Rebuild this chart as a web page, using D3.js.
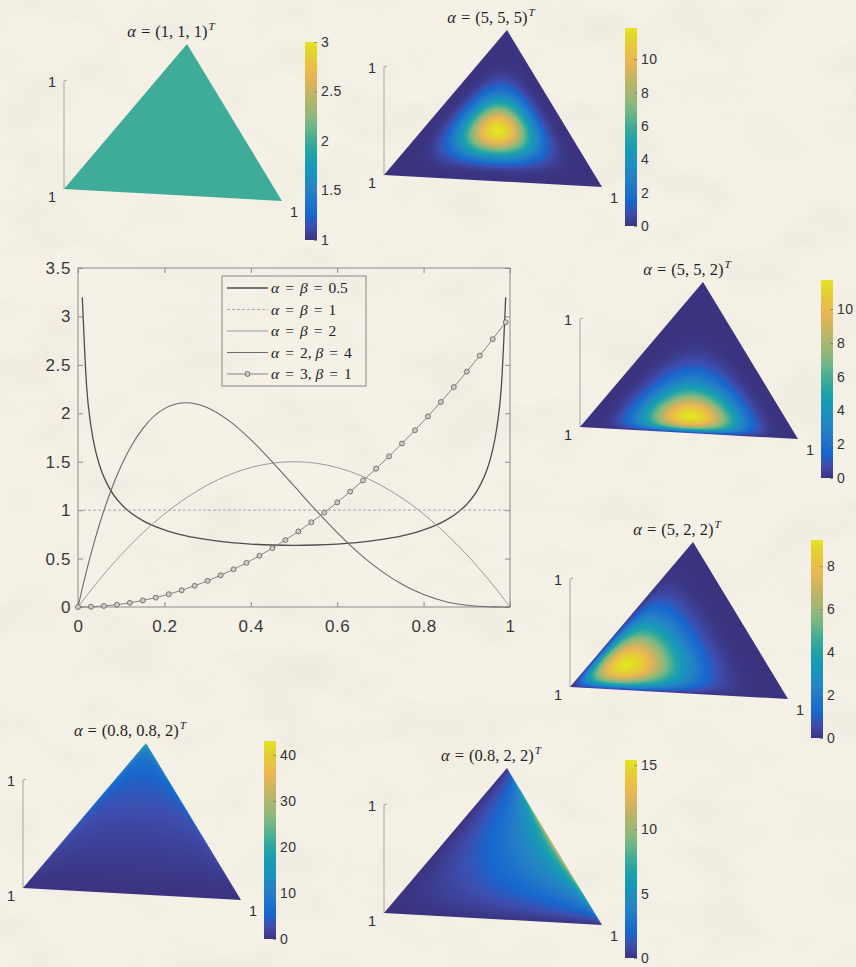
<!DOCTYPE html>
<html>
<head>
<meta charset="utf-8">
<script src="https://cdn.jsdelivr.net/npm/d3@7"></script>
<style>
  html, body { margin: 0; padding: 0; background: #f4efe5; }
  svg { display: block; }
</style>
</head>
<body>
<svg id="fig" width="856" height="967"></svg>
<script>
// ---------- Beta densities for the line plot ----------
const betaX = [0, 0.01, 0.02, 0.03, 0.04, 0.05, 0.075, 0.1, 0.125, 0.15, 0.2, 0.25, 0.3, 0.35, 0.4, 0.45, 0.5,
               0.55, 0.6, 0.65, 0.7, 0.75, 0.8, 0.85, 0.875, 0.9, 0.925, 0.95, 0.96, 0.97, 0.98, 0.99, 1];
const betaHalf = [null, 3.199, 2.274, 1.866, 1.624, 1.461, 1.209, 1.061, 0.963, 0.892, 0.796, 0.735, 0.695, 0.667, 0.650, 0.640, 0.637,
                  0.640, 0.650, 0.667, 0.695, 0.735, 0.796, 0.892, 0.963, 1.061, 1.209, 1.461, 1.624, 1.866, 2.274, 3.199, null];
const uniformX = [0, 1];
const uniformY = [1, 1];
const betaTwoTwo = [0, 0.059, 0.118, 0.175, 0.230, 0.285, 0.416, 0.540, 0.656, 0.765, 0.960, 1.125, 1.260, 1.365, 1.440, 1.485, 1.500,
                    1.485, 1.440, 1.365, 1.260, 1.125, 0.960, 0.765, 0.656, 0.540, 0.416, 0.285, 0.230, 0.175, 0.118, 0.059, 0];
const betaTwoFour = [0, 0.194, 0.377, 0.548, 0.708, 0.857, 1.187, 1.458, 1.675, 1.842, 2.048, 2.109, 2.058, 1.922, 1.728, 1.497, 1.250,
                     1.002, 0.768, 0.557, 0.378, 0.234, 0.128, 0.057, 0.034, 0.018, 0.008, 0.002, 0.001, 0.001, 0.000, 0.000, 0];
const betaThreeOneX = [0, 0.03, 0.06, 0.09, 0.12, 0.15, 0.18, 0.21, 0.24, 0.27, 0.30, 0.33, 0.36, 0.39, 0.42, 0.45, 0.48,
                       0.51, 0.54, 0.57, 0.60, 0.63, 0.66, 0.69, 0.72, 0.75, 0.78, 0.81, 0.84, 0.87, 0.90, 0.93, 0.96, 0.99];
const betaThreeOneY = [0, 0.003, 0.011, 0.024, 0.043, 0.068, 0.097, 0.132, 0.173, 0.219, 0.270, 0.327, 0.389, 0.456, 0.529, 0.608, 0.691,
                       0.780, 0.875, 0.975, 1.080, 1.191, 1.307, 1.428, 1.555, 1.688, 1.825, 1.968, 2.117, 2.271, 2.430, 2.595, 2.765, 2.940];
const legendAlpha = [0.5, 1, 2, 2, 3];
const legendBeta  = [0.5, 1, 2, 4, 1];
const xTicks = [0, 0.2, 0.4, 0.6, 0.8, 1];
const xTickLabels = ["0", "0.2", "0.4", "0.6", "0.8", "1"];
const yTicks = [0, 0.5, 1, 1.5, 2, 2.5, 3, 3.5];
const yTickLabels = ["0", "0.5", "1", "1.5", "2", "2.5", "3", "3.5"];

// ---------- Dirichlet densities on the simplex ----------
const dirichletAlpha = [[1, 1, 1], [5, 5, 5], [5, 5, 2], [5, 2, 2], [0.8, 0.8, 2], [0.8, 2, 2]];
const cbarMin = [1, 0, 0, 0, 0, 0];
const cbarMax = [3, 11.87, 11.72, 9.22, 43, 15.4];
const cbarTicks = [[1, 1.5, 2, 2.5, 3], [0, 2, 4, 6, 8, 10], [0, 2, 4, 6, 8, 10], [0, 2, 4, 6, 8], [0, 10, 20, 30, 40], [0, 5, 10, 15]];
const cbarTickLabels = [["1", "1.5", "2", "2.5", "3"], ["0", "2", "4", "6", "8", "10"], ["0", "2", "4", "6", "8", "10"],
                        ["0", "2", "4", "6", "8"], ["0", "10", "20", "30", "40"], ["0", "5", "10", "15"]];

// parula colormap samples (position, r, g, b)
const parulaPos = [0, 4, 8, 12, 16, 20, 24, 28, 32, 36, 40, 44, 48, 52, 56, 60, 63].map(i => i / 63);
const parulaRGB = [
  [0.2081, 0.1663, 0.5292], [0.1959, 0.2645, 0.7279], [0.0117, 0.3875, 0.8820], [0.0498, 0.4586, 0.8641],
  [0.0793, 0.5200, 0.8312], [0.0343, 0.5966, 0.8199], [0.0228, 0.6535, 0.7768], [0.0843, 0.6928, 0.7062],
  [0.2178, 0.7250, 0.6193], [0.3953, 0.7459, 0.5244], [0.5709, 0.7485, 0.4494], [0.7184, 0.7411, 0.3905],
  [0.8507, 0.7299, 0.3360], [0.9739, 0.7314, 0.2666], [0.9880, 0.8066, 0.1794], [0.9589, 0.8949, 0.1132],
  [0.9763, 0.9831, 0.0538]
];

// ---------- layout ----------
const W = 856, H = 967;
const plot = { left: 78, right: 510, top: 268, bottom: 607 };
// screen origin of each simplex panel (the (0,0,0) corner of its 3-D box)
const panelOrigin = [[187, 152], [507, 138], [703, 390], [693, 650], [146, 851], [507, 876]];
// vertical shift of each colorbar relative to its panel
const cbarShift = [0, 0, 0, 0, 0, -6];
// projected unit vectors of the three coordinate axes
const ex = [-123, 37], ey = [95, 49], ez = [0, -108];

const SANS = '"Liberation Sans", Arial, Helvetica, sans-serif';
const SERIF = '"Liberation Serif", "Times New Roman", serif';

const svg = d3.select('#fig');
const defs = svg.append('defs');

// paper background
const paper = defs.append('filter').attr('id', 'paper').attr('x', 0).attr('y', 0).attr('width', '100%').attr('height', '100%');
paper.append('feTurbulence').attr('type', 'fractalNoise').attr('baseFrequency', '0.012 0.02').attr('numOctaves', 4).attr('seed', 7);
paper.append('feColorMatrix').attr('type', 'matrix')
  .attr('values', '0 0 0 0 0.55  0 0 0 0 0.50  0 0 0 0 0.42  1.3 0 0 0 -0.55');
svg.append('rect').attr('width', W).attr('height', H).attr('fill', '#f5f1e7');
svg.append('rect').attr('width', W).attr('height', H).attr('filter', 'url(#paper)').attr('opacity', 0.2);

// slightly softened parula, as printed
const parulaColors = parulaRGB.map(c => {
  const h = d3.hsl(d3.rgb(c[0] * 255, c[1] * 255, c[2] * 255));
  h.s *= 0.82;
  return h.toString();
});
const parulaScale = d3.scaleLinear().domain(parulaPos).range(parulaColors)
  .interpolate(d3.interpolateRgb).clamp(true);

// ---------- math-style text ----------
function mathText(parent, x, y, pieces, size, anchor) {
  const t = parent.append('text').attr('x', x).attr('y', y)
    .attr('font-family', SERIF).attr('font-size', size).attr('fill', '#1f1f1f')
    .attr('text-anchor', anchor || 'start');
  pieces.forEach(p => {
    const s = t.append('tspan').text(p.t);
    if (p.it) s.attr('font-style', 'italic');
    if (p.dx) s.attr('dx', p.dx);
    if (p.sup) s.attr('font-size', size * 0.68).attr('dy', -size * 0.42);
  });
  return t;
}

// ---------- line plot ----------
const x = d3.scaleLinear().domain([0, 1]).range([plot.left, plot.right]);
const y = d3.scaleLinear().domain([0, 3.5]).range([plot.bottom, plot.top]);
const gPlot = svg.append('g');

function styleAxis(g, withText) {
  g.select('.domain').remove();
  g.selectAll('.tick line').attr('stroke', '#8a8a8a').attr('stroke-width', 1);
  g.selectAll('.tick text').attr('fill', '#383838').attr('font-family', SANS)
    .attr('font-size', 17).style('letter-spacing', '0.6px');
  if (!withText) g.selectAll('.tick text').remove();
}
gPlot.append('g').attr('transform', `translate(0,${plot.bottom})`)
  .call(d3.axisBottom(x).tickValues(xTicks).tickFormat((d, i) => xTickLabels[i]).tickSize(-5).tickPadding(13))
  .call(g => styleAxis(g, true));
gPlot.append('g').attr('transform', `translate(0,${plot.top})`)
  .call(d3.axisTop(x).tickValues(xTicks).tickFormat('').tickSize(-5)).call(g => styleAxis(g, false));
gPlot.append('g').attr('transform', `translate(${plot.left},0)`)
  .call(d3.axisLeft(y).tickValues(yTicks).tickFormat((d, i) => yTickLabels[i]).tickSize(-5).tickPadding(7))
  .call(g => styleAxis(g, true));
gPlot.append('g').attr('transform', `translate(${plot.right},0)`)
  .call(d3.axisRight(y).tickValues(yTicks).tickFormat('').tickSize(-5)).call(g => styleAxis(g, false));
gPlot.append('rect').attr('x', plot.left).attr('y', plot.top)
  .attr('width', plot.right - plot.left).attr('height', plot.bottom - plot.top)
  .attr('fill', 'none').attr('stroke', '#8a8a8a').attr('stroke-width', 1);

const series = [
  { xs: betaX, ys: betaHalf, stroke: '#4d4d4d', width: 1.3, dash: null, curve: d3.curveMonotoneX },
  { xs: uniformX, ys: uniformY, stroke: '#a8a8a8', width: 1, dash: '3,2', curve: d3.curveLinear },
  { xs: betaX, ys: betaTwoTwo, stroke: '#9a9a9a', width: 1, dash: null, curve: d3.curveMonotoneX },
  { xs: betaX, ys: betaTwoFour, stroke: '#6a6a6a', width: 1.1, dash: null, curve: d3.curveMonotoneX },
  { xs: betaThreeOneX, ys: betaThreeOneY, stroke: '#858585', width: 1, dash: null, curve: d3.curveLinear, markers: true }
];
series.forEach(s => {
  const pts = s.xs.map((v, i) => [v, s.ys[i]]);
  const line = d3.line().defined(d => d[1] != null).x(d => x(d[0])).y(d => y(d[1])).curve(s.curve);
  gPlot.append('path').attr('d', line(pts)).attr('fill', 'none')
    .attr('stroke', s.stroke).attr('stroke-width', s.width).attr('stroke-dasharray', s.dash);
  if (s.markers) {
    gPlot.selectAll(null).data(pts).enter().append('circle')
      .attr('cx', d => x(d[0])).attr('cy', d => y(d[1])).attr('r', 2.5)
      .attr('fill', '#cfcac0').attr('stroke', '#5e5e5e').attr('stroke-width', 0.8);
  }
});

// legend
const leg = { x0: 222, y0: 276, w: 144, h: 110, row0: 288, rowStep: 21.5, lineX0: 227, lineX1: 268, textX: 271 };
gPlot.append('rect').attr('x', leg.x0).attr('y', leg.y0).attr('width', leg.w).attr('height', leg.h)
  .attr('fill', 'none').attr('stroke', '#858585').attr('stroke-width', 1);
series.forEach((s, i) => {
  const ry = leg.row0 + i * leg.rowStep;
  gPlot.append('line').attr('x1', leg.lineX0).attr('x2', leg.lineX1).attr('y1', ry).attr('y2', ry)
    .attr('stroke', s.stroke).attr('stroke-width', s.width).attr('stroke-dasharray', s.dash);
  if (s.markers) {
    gPlot.append('circle').attr('cx', (leg.lineX0 + leg.lineX1) / 2).attr('cy', ry).attr('r', 2.5)
      .attr('fill', '#cfcac0').attr('stroke', '#5e5e5e').attr('stroke-width', 0.8);
  }
  const a = legendAlpha[i], b = legendBeta[i], g = 6;
  const pieces = a === b
    ? [{ t: 'α', it: true }, { t: '=', dx: g }, { t: 'β', it: true, dx: g }, { t: '=', dx: g }, { t: String(a), dx: g }]
    : [{ t: 'α', it: true }, { t: '=', dx: g }, { t: String(a) + ',', dx: g }, { t: 'β', it: true, dx: 4 }, { t: '=', dx: g }, { t: String(b), dx: g }];
  mathText(gPlot, leg.textX, ry + 5, pieces, 15.5, 'start');
});

// ---------- Dirichlet panels ----------
function lgamma(z) {
  const c = [0.99999999999980993, 676.5203681218851, -1259.1392167224028, 771.32342877765313,
    -176.61502916214059, 12.507343278686905, -0.13857109526572012, 9.9843695780195716e-6, 1.5056327351493116e-7];
  if (z < 0.5) return Math.log(Math.PI / Math.sin(Math.PI * z)) - lgamma(1 - z);
  z -= 1;
  let s = c[0];
  for (let i = 1; i < 9; i++) s += c[i] / (z + i);
  const t = z + 7.5;
  return 0.5 * Math.log(2 * Math.PI) + (z + 0.5) * Math.log(t) - t + Math.log(s);
}

// gradient for the colorbars
const grad = defs.append('linearGradient').attr('id', 'parulaGrad')
  .attr('x1', 0).attr('y1', 1).attr('x2', 0).attr('y2', 0);
parulaPos.forEach((p, i) => grad.append('stop').attr('offset', p).attr('stop-color', parulaColors[i]));

dirichletAlpha.forEach((alpha, k) => {
  const [ox, oy] = panelOrigin[k];
  // projected vertices: component 1 -> L, component 2 -> R, component 3 -> A
  const L = [ox + ex[0], oy + ex[1]];
  const R = [ox + ey[0], oy + ey[1]];
  const A = [ox + ez[0], oy + ez[1]];
  const g = svg.append('g');

  const color = d3.scaleLinear().domain([cbarMin[k], cbarMax[k]]).range([0, 1]).clamp(true);
  const logNorm = lgamma(d3.sum(alpha)) - d3.sum(alpha, a => lgamma(a));

  // density surface, rasterised on the projected triangle
  const bx = Math.floor(Math.min(L[0], R[0], A[0])) - 1, by = Math.floor(Math.min(L[1], R[1], A[1])) - 1;
  const bw = Math.ceil(Math.max(L[0], R[0], A[0])) + 2 - bx, bh = Math.ceil(Math.max(L[1], R[1], A[1])) + 2 - by;
  const cv = document.createElement('canvas');
  cv.width = bw; cv.height = bh;
  const ctx = cv.getContext('2d');
  const img = ctx.createImageData(bw, bh);
  const u = [L[0] - A[0], L[1] - A[1]], v = [R[0] - A[0], R[1] - A[1]];
  const det = u[0] * v[1] - u[1] * v[0];
  const eps = 0.004;
  for (let j = 0; j < bh; j++) {
    for (let i = 0; i < bw; i++) {
      const dx = bx + i + 0.5 - A[0], dy = by + j + 0.5 - A[1];
      let b1 = (dx * v[1] - dy * v[0]) / det;
      let b2 = (u[0] * dy - u[1] * dx) / det;
      let b3 = 1 - b1 - b2;
      if (b1 < -0.03 || b2 < -0.03 || b3 < -0.03) continue;
      b1 = Math.max(b1, eps); b2 = Math.max(b2, eps); b3 = Math.max(b3, eps);
      const dens = Math.exp(logNorm + (alpha[0] - 1) * Math.log(b1) + (alpha[1] - 1) * Math.log(b2) + (alpha[2] - 1) * Math.log(b3));
      const c = d3.rgb(parulaScale(color(dens)));
      const o = (j * bw + i) * 4;
      img.data[o] = c.r; img.data[o + 1] = c.g; img.data[o + 2] = c.b; img.data[o + 3] = 255;
    }
  }
  ctx.putImageData(img, 0, 0);
  const clipId = 'tri' + k;
  defs.append('clipPath').attr('id', clipId).append('polygon')
    .attr('points', [L, R, A].map(p => p.join(',')).join(' '));

  // vertical z ruler at the (1,0,·) corner
  g.append('line').attr('x1', L[0]).attr('x2', L[0]).attr('y1', L[1]).attr('y2', L[1] + ez[1])
    .attr('stroke', '#a5a5a5').attr('stroke-width', 1);
  g.append('line').attr('x1', L[0]).attr('x2', L[0] + 3).attr('y1', L[1] + ez[1]).attr('y2', L[1] + ez[1] - 1)
    .attr('stroke', '#a5a5a5').attr('stroke-width', 1);

  g.append('image').attr('href', cv.toDataURL()).attr('x', bx).attr('y', by)
    .attr('width', bw).attr('height', bh).attr('clip-path', `url(#${clipId})`);

  // axis "1" labels
  const lab = [[L[0] - 12, L[1] + ez[1] + 1], [L[0] - 12, L[1] + 8], [R[0] + 12, R[1] + 11]];
  lab.forEach(p => g.append('text').attr('x', p[0]).attr('y', p[1]).attr('dy', '0.35em')
    .attr('text-anchor', 'middle').attr('font-family', SANS).attr('font-size', 14.5)
    .attr('fill', '#2e2e2e').text('1'));

  // title
  const tp = [{ t: 'α', it: true }, { t: '=', dx: 5 }, { t: '(' + alpha.map(String).join(', ') + ')', dx: 5 },
              { t: 'T', it: true, sup: true, dx: 1 }];
  mathText(g, ox - 16, oy - 115, tp, 16.5, 'middle');

  // colorbar
  const cbX = ox + 118, cbTop = oy - 110 + cbarShift[k], cbH = 198, cbW = 12;
  g.append('rect').attr('x', cbX).attr('y', cbTop).attr('width', cbW).attr('height', cbH)
    .attr('fill', 'url(#parulaGrad)');
  const cy = d3.scaleLinear().domain([cbarMin[k], cbarMax[k]]).range([cbTop + cbH, cbTop]);
  const ax = g.append('g').attr('transform', `translate(${cbX + cbW},0)`)
    .call(d3.axisRight(cy).tickValues(cbarTicks[k]).tickFormat((d, i) => cbarTickLabels[k][i]).tickSize(-3).tickPadding(4));
  ax.select('.domain').remove();
  ax.selectAll('.tick line').attr('stroke', '#7a7a7a').attr('stroke-width', 0.8);
  ax.selectAll('.tick text').attr('fill', '#333').attr('font-family', SANS).attr('font-size', 14)
    .style('letter-spacing', '0.4px');
});
</script>
</body>
</html>
